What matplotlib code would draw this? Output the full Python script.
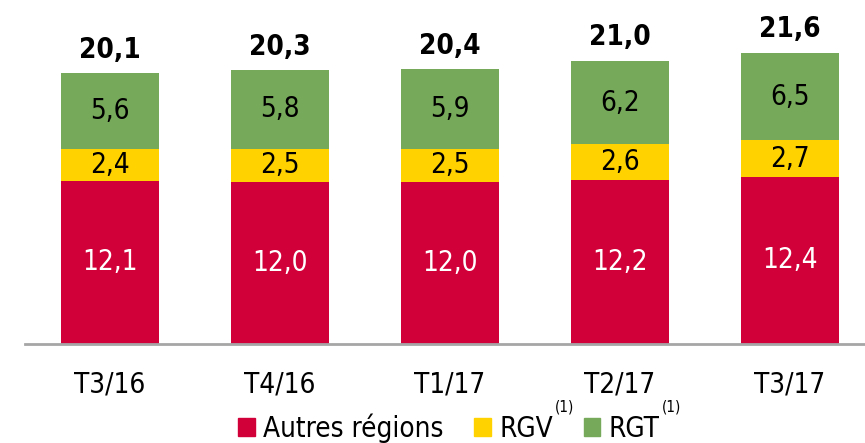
import matplotlib
matplotlib.use("Agg")
import matplotlib.pyplot as plt
import numpy as np
from matplotlib.patches import Patch

plt.rcParams["font.family"] = ["DejaVu Sans"]
plt.rcParams["font.stretch"] = "condensed"

categories = ["T3/16", "T4/16", "T1/17", "T2/17", "T3/17"]
autres = [12.1, 12.0, 12.0, 12.2, 12.4]
rgv = [2.4, 2.5, 2.5, 2.6, 2.7]
rgt = [5.6, 5.8, 5.9, 6.2, 6.5]
totals = [20.1, 20.3, 20.4, 21.0, 21.6]

RED = "#D20038"
YELLOW = "#FFD200"
GREEN = "#77A95A"


def fr(v):
    return f"{v:.1f}".replace(".", ",")


fig = plt.figure(figsize=(8.65, 4.43), dpi=100)
ax = fig.add_axes([25 / 865, 99 / 443, 845 / 865, 337 / 443])

x = np.arange(len(categories))
w = 0.575
a = np.array(autres)
b = np.array(rgv)
c = np.array(rgt)

ax.bar(x, a, w, color=RED)
ax.bar(x, b, w, bottom=a, color=YELLOW)
ax.bar(x, c, w, bottom=a + b, color=GREEN)

fs = 20
for i in range(len(x)):
    ax.text(x[i], a[i] / 2, fr(a[i]), ha="center", va="center", color="white", fontsize=fs)
    ax.text(x[i], a[i] + b[i] / 2, fr(b[i]), ha="center", va="center", color="black", fontsize=fs)
    ax.text(x[i], a[i] + b[i] + c[i] / 2, fr(c[i]), ha="center", va="center", color="black", fontsize=fs)
    ax.text(x[i], totals[i] + 0.7, fr(totals[i]), ha="center", va="bottom", color="black",
            fontsize=fs, fontweight="bold")

ax.set_xlim(-0.5, 4.47)
ax.set_ylim(0, 25)
ax.set_xticks(x)
ax.set_xticklabels(categories, fontsize=fs)
ax.tick_params(axis="x", length=0, pad=19)
ax.set_yticks([])
for s in ["top", "right", "left"]:
    ax.spines[s].set_visible(False)
ax.spines["bottom"].set_color("#A6A6A6")
ax.spines["bottom"].set_linewidth(2)

handles = [Patch(color=RED), Patch(color=YELLOW), Patch(color=GREEN)]
leg = fig.legend(handles, ["Autres régions", "RGV", "RGT"], loc="center",
                 bbox_to_anchor=(449 / 865, 1 - 428 / 443), ncol=3, frameon=False,
                 fontsize=fs, handlelength=0.6, handleheight=0.6, handletextpad=0.3,
                 columnspacing=1.1)

# superscripts after RGV and RGT
fig.canvas.draw()
inv = fig.transFigure.inverted()
for t in leg.get_texts()[1:]:
    bb = t.get_window_extent()
    x0, y0 = inv.transform((bb.x1 + 2, bb.y1 + 8))
    fig.text(x0, y0, "(1)", fontsize=11, ha="left", va="center")

fig.savefig("out.png", dpi=100)
